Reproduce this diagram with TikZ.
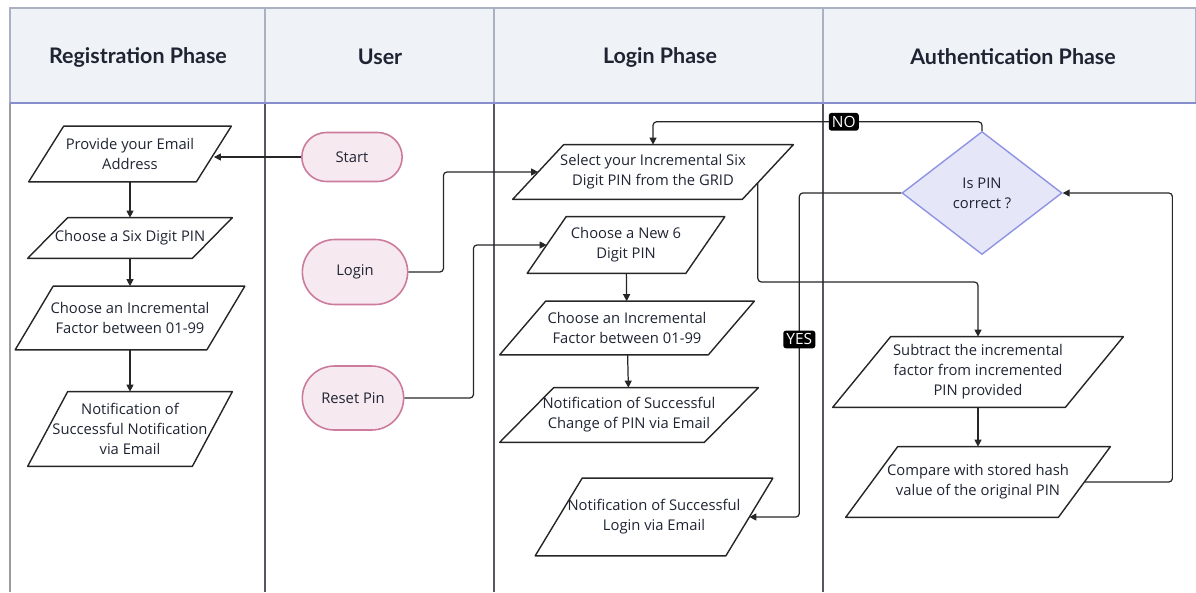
\documentclass[tikz,border=0pt]{standalone}
\usepackage{fontspec}
\setmainfont{Open Sans}
\newfontfamily\headfont{Lato}
\usetikzlibrary{arrows.meta,shapes.geometric,shapes.misc}

\definecolor{ink}{HTML}{1F2433}
\definecolor{headbg}{HTML}{EFF2F7}
\definecolor{headln}{HTML}{A9B1C2}
\definecolor{laneln}{HTML}{55595F}
\definecolor{pinkbg}{HTML}{F7E9F0}
\definecolor{pinkln}{HTML}{CC7B9C}
\definecolor{lilacbg}{HTML}{E5E7F8}
\definecolor{lilacln}{HTML}{8E93E3}
\definecolor{wire}{HTML}{262626}

\tikzset{
  every node/.style={text=ink, align=center, font=\fontsize{8.4}{11.4}\selectfont},
  lanehead/.style={font=\headfont\bfseries\fontsize{12.2}{14}\selectfont},
  io/.style 2 args={rectangle, inner sep=0pt, minimum width=#1*0.02cm, minimum height=#2*0.02cm},
  box/.style={draw=wire, line width=0.8pt, line join=round},
  term/.style 2 args={rounded rectangle, draw=pinkln, fill=pinkbg, line width=0.9pt,
    minimum width=#1*0.02cm, minimum height=#2*0.02cm},
  test/.style={diamond, draw=lilacln, fill=lilacbg, line width=0.8pt, inner sep=0pt,
    aspect=1.3, minimum width=160*0.02cm, minimum height=123*0.02cm},
  flow/.style={draw=wire, line width=0.7pt, rounded corners=2pt, -{Triangle[length=4pt,width=4pt]}},
  lbl/.style={fill=black, text=white, rounded corners=1.5pt, inner sep=1.8pt,
    font=\fontsize{8.8}{10}\selectfont}
}

\begin{document}
\begin{tikzpicture}[x=0.02cm, y=-0.02cm]
\useasboundingbox (0,0) rectangle (1196,592);

% swimlanes
\draw[headln, fill=headbg, line width=1pt] (10,8) rectangle (1196,103);
\draw[laneln!60, line width=0.6pt] (10,103) -- (10,592);
\foreach \x in {265,494,823} {
  \draw[headln, line width=0.8pt] (\x,8) -- (\x,103);
  \draw[laneln, line width=0.6pt] (\x,103) -- (\x,592);
}
\draw[headln!80!blue, line width=1.2pt] (10,103) -- (1196,103);

\node[lanehead] (hreg) at (138,57) {Registration Phase};
\node[lanehead] (husr) at (380,57) {User};
\node[lanehead] (hlog) at (660,57) {Login Phase};
\node[lanehead] (haut) at (1013,57) {Authentication Phase};

% registration
\node[io={167}{55}] (prov) at (130,154) {Provide your Email\\Address};
\node[io={164}{40}] (six) at (130,238) {Choose a Six Digit PIN};
\node[io={191}{63}] (incr1) at (130,318) {Choose an Incremental\\Factor between 01-99};
\node[io={164}{74}] (notif1) at (130,429) {Notification of\\Successful Notification\\via Email};

% user
\node[term={112}{49}] (start) at (352,157) {Start};
\node[term={117}{65}] (login) at (355,272) {Login};
\node[term={113}{64}] (reset) at (353,398) {Reset Pin};

% login
\node[io={229}{54}] (sel) at (653,172) {Select your Incremental Six\\Digit PIN from the GRID};
\node[io={158}{56}] (new6) at (626,245) {Choose a New 6\\Digit PIN};
\node[io={208}{53}] (incr2) at (627,328) {Choose an Incremental\\Factor between 01-99};
\node[io={204}{54}] (change) at (629,415) {Notification of Successful\\Change of PIN via Email};
\node[io={190}{77}] (loginN) at (654,517) {Notification of Successful\\Login via Email};

% authentication
\node[test] (dia) at (982,193) {Is PIN\\correct ?};
\node[io={232}{70}] (subtr) at (978,372) {Subtract the incremental\\factor from incremented\\PIN provided};
\node[io={212}{70}] (comp) at (978,482) {Compare with stored hash\\value of the original PIN};

% slanted data boxes
\foreach \n/\s in {prov/17.5, six/20, incr1/19, notif1/20, sel/25.5, new6/19.5,
    incr2/23, change/27, loginN/23.5, subtr/29, comp/26}
  \draw[box] ([xshift=\s*0.02cm]\n.north west) -- ([xshift=\s*0.02cm]\n.north east)
    -- ([xshift=-\s*0.02cm]\n.south east) -- ([xshift=-\s*0.02cm]\n.south west) -- cycle;

% connectors
\draw[flow] (start.west) -- (start.west -| prov.east);
\draw[flow] (prov) -- (six);
\draw[flow] (six) -- (incr1);
\draw[flow] (incr1) -- (notif1);

\draw[flow] (login.east) -- ++(35,0) |- (sel.west);
\draw[flow] (reset.east) -- ++(69,0) |- (new6.west);
\draw[flow] (new6) -- (incr2);
\draw[flow] (incr2) -- (change);

\coordinate (selout) at ([shift={(-10,11)}]sel.east);
\draw[flow] (selout) -- ++(0,99) -| (subtr.north);
\draw[flow] (subtr) -- (comp);
\draw[flow] (comp.east) -- ++(88,0) |- (dia.east);
\draw[flow] (dia.north) -- ++(0,-9) -| node[lbl, pos=0.21] {NO} (sel.north);
\draw[flow] (dia.west) -- ++(-102,0) |- node[lbl, pos=0.226] {YES} (loginN.east);
\end{tikzpicture}
\end{document}
